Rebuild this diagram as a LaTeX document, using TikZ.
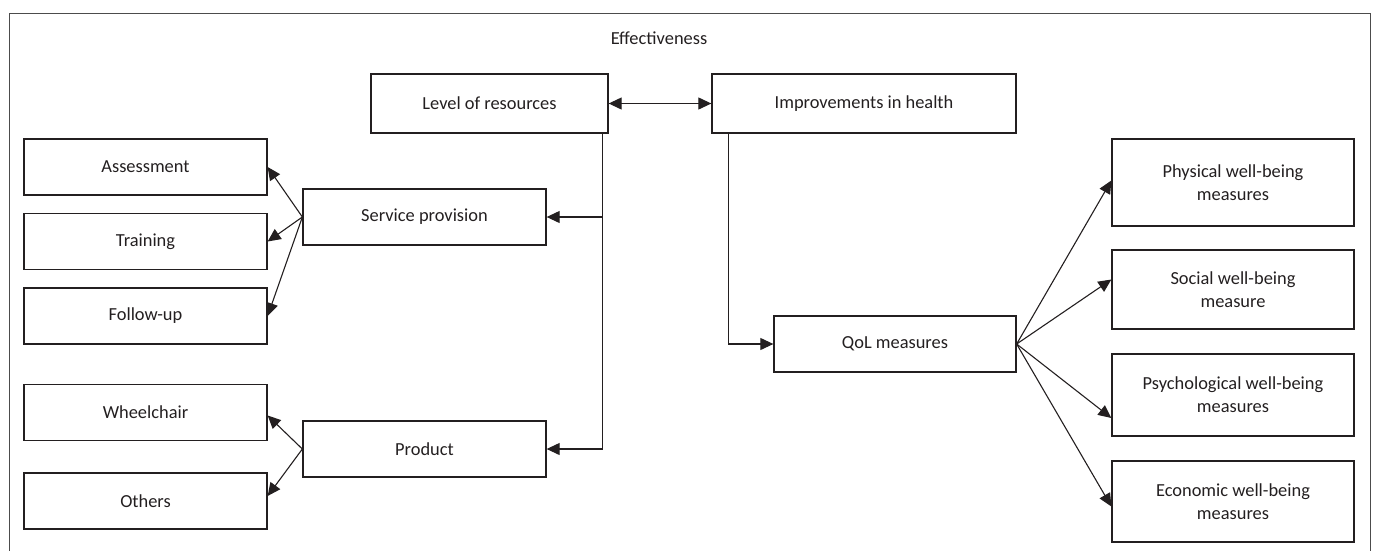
\documentclass[tikz,border=0pt]{standalone}
\usepackage{fontspec}
\setmainfont{Carlito}
\usetikzlibrary{arrows.meta,calc}
\definecolor{ink}{HTML}{231F20}
\begin{document}
\begin{tikzpicture}[x=1pt,y=-1pt,
  every node/.style={font=\fontsize{18.4}{23}\selectfont, text=ink},
  box/.style={draw=ink, line width=1.3pt, rectangle, inner sep=0pt, align=center, minimum width=243pt},
  arr/.style={draw=ink, line width=1.1pt, -{Triangle[length=13pt,width=12pt]}},
  darr/.style={draw=ink, line width=1.1pt, {Triangle[length=13pt,width=12pt]}-{Triangle[length=13pt,width=12pt]}}]
\useasboundingbox (0,0) rectangle (1376,550);
\draw[black!70, line width=1pt] (9,552) -- (9,13.3) -- (1370,13.3) -- (1370,552);
\node (eff) at (659,38) {Effectiveness};
\node[box, minimum width=237pt, minimum height=59pt] (lev) at (489.5,103.5) {Level of resources};
\node[box, minimum width=304pt, minimum height=59pt] (imp) at (864,103.5) {Improvements in health};
\node[box, minimum height=56pt] (svc) at (424.5,217) {Service provision};
\node[box, minimum height=56pt] (prod) at (424.5,449) {Product};
\node[box, minimum height=56pt] (ass) at (145.5,167) {Assessment};
\node[box, minimum height=56pt] (trn) at (145.5,241.5) {Training};
\node[box, minimum height=56pt] (fol) at (145.5,316) {Follow-up};
\node[box, minimum height=56pt] (whe) at (145.5,412.5) {Wheelchair};
\node[box, minimum height=56pt] (oth) at (145.5,501) {Others};
\node[box, minimum width=242pt, minimum height=56pt] (qol) at (895,344) {QoL measures};
\node[box, minimum width=242pt, minimum height=87pt] (phy) at (1233,182.5) {Physical well-being\\measures};
\node[box, minimum width=242pt, minimum height=79pt] (soc) at (1233,289.5) {Social well-being\\measure};
\node[box, minimum width=242pt, minimum height=82pt] (psy) at (1233,395) {Psychological well-being\\measures};
\node[box, minimum width=242pt, minimum height=81pt] (eco) at (1233,501.5) {Economic well-being\\measures};
% connectors
\draw[darr] (lev.east) -- (imp.west);
\coordinate (lj) at ([xshift=-6pt]lev.south east);
\draw[arr] (lj) |- (prod.east);
\draw[arr] (lj |- svc.east) -- (svc.east);
\coordinate (ij) at ([xshift=17pt]imp.south west);
\draw[arr] (ij) |- (qol.west);
\draw[arr] (svc.west) -- (ass.east);
\draw[arr] (svc.west) -- (trn.east);
\draw[arr] (svc.west) -- (fol.east);
\draw[arr] (prod.west) -- ([yshift=-3pt]whe.east);
\draw[arr] (prod.west) -- ([yshift=5pt]oth.east);
\draw[arr] (qol.east) -- ([yshift=2pt]phy.west);
\draw[arr] (qol.east) -- ([yshift=10pt]soc.west);
\draw[arr] (qol.east) -- ([yshift=-23pt]psy.west);
\draw[arr] (qol.east) -- ([yshift=-5pt]eco.west);
\end{tikzpicture}
\end{document}
